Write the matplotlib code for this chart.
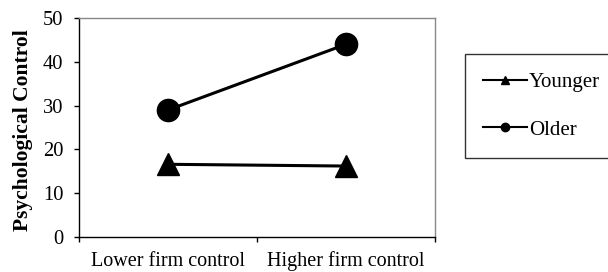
import matplotlib
matplotlib.use("Agg")
import matplotlib.pyplot as plt
from matplotlib.lines import Line2D

categories = ["Lower firm control", "Higher firm control"]
younger = [16.6, 16.2]
older = [29.0, 44.0]
yticks = [0, 10, 20, 30, 40, 50]

plt.rcParams['font.family'] = ['Liberation Serif', 'DejaVu Serif']

fig = plt.figure(figsize=(6.08, 2.72), dpi=100)
ax = fig.add_axes([79/608, 1-237/272, (435-79)/608, (237-18)/272])

xpos = [0.5, 1.5]
ax.plot(xpos, younger, color='black', lw=2.2, marker='^', markersize=16, clip_on=False)
ax.plot(xpos, older, color='black', lw=2.2, marker='o', markersize=16, clip_on=False)

ax.set_xlim(0, 2)
ax.set_ylim(0, 50)
ax.set_yticks(yticks)
ax.set_yticklabels([str(v) for v in yticks], fontsize=14.8)
ax.set_xticks([0, 1, 2])
ax.set_xticklabels([])
ax.set_xticks(xpos, minor=True)
ax.set_xticklabels(categories, minor=True, fontsize=14.5)
ax.tick_params(axis='x', which='minor', length=0, pad=10.5)
ax.tick_params(axis='both', which='major', length=3.6, width=1, direction='out', color='black')
ax.tick_params(axis='y', pad=7.5)

for s in ['left', 'bottom']:
    ax.spines[s].set_color('black')
    ax.spines[s].set_linewidth(1)
for s in ['top', 'right']:
    ax.spines[s].set_color('#888888')
    ax.spines[s].set_linewidth(1)

ax.set_ylabel("Psychological Control", fontsize=15.5, fontweight='bold')
ax.yaxis.set_label_coords(-0.129, 0.49)

handles = [Line2D([], [], color='black', lw=1.5, marker='^', markersize=6),
           Line2D([], [], color='black', lw=1.5, marker='o', markersize=6)]
leg = fig.legend(handles, ["Younger", "Older"], loc='upper left',
                 bbox_to_anchor=(465/608, 1-54/272, 0.4, 0.0), mode='expand',
                 fontsize=15, frameon=True, fancybox=False, edgecolor='black',
                 borderpad=0.88, labelspacing=1.35, handlelength=2.1, handletextpad=0.1,
                 borderaxespad=0)
leg.get_frame().set_linewidth(1)

fig.savefig("out.png", dpi=100)
